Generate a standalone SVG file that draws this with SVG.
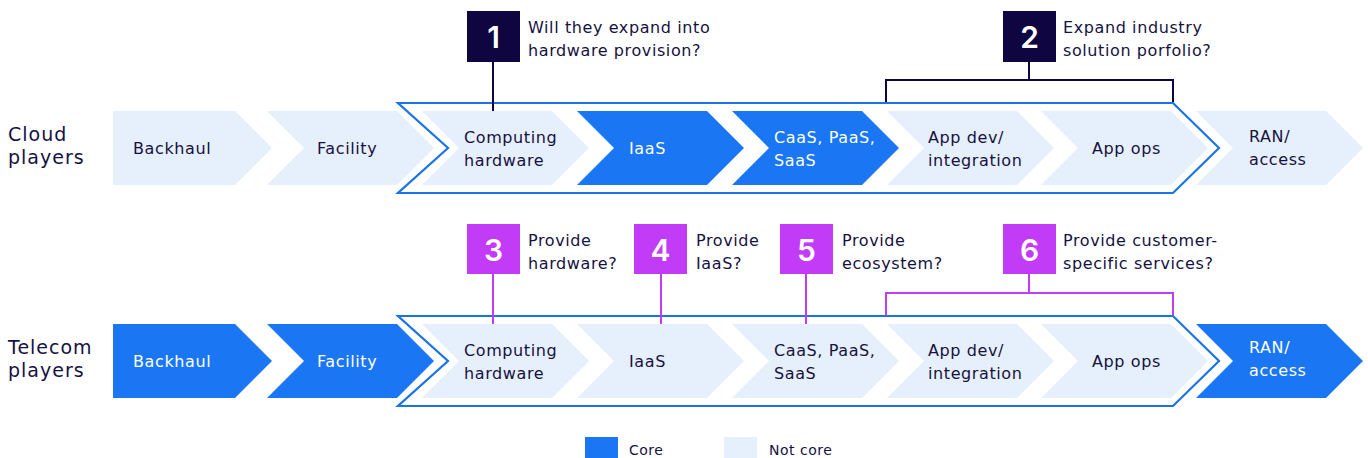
<svg xmlns="http://www.w3.org/2000/svg" width="1368" height="458" viewBox="0 0 1368 458">
<style>
.core{fill:#1a76f2}
.nc{fill:#e6effc}
.outline{fill:none;stroke:#1a73e8;stroke-width:2.2}
.t{font-family:"DejaVu Sans",sans-serif;font-size:16px;letter-spacing:0.6px;fill:#16123f}
.tw{font-family:"DejaVu Sans",sans-serif;font-size:16px;letter-spacing:0.6px;fill:#ffffff}
.lbl{font-family:"DejaVu Sans",sans-serif;font-size:19px;letter-spacing:1px;fill:#16123f}
.leg{font-family:"DejaVu Sans",sans-serif;font-size:14px;letter-spacing:0.5px;fill:#16123f}
.num{font-family:Inter,"Liberation Sans",sans-serif;font-size:30px;font-weight:600;fill:#ffffff;text-anchor:middle}
.navy{fill:#0f0540}
.purple{fill:#c23cf8}
.ln{fill:none;stroke:#0f0540;stroke-width:2}
.lp{fill:none;stroke:#c23cf8;stroke-width:2}
</style>

<g id="row-labels">
<text class="lbl" x="8" y="141">Cloud</text>
<text class="lbl" x="8" y="164">players</text>
<text class="lbl" x="8" y="354">Telecom</text>
<text class="lbl" x="8" y="377">players</text>
</g>

<!-- Cloud row -->
<g id="cloud-outline"><polygon class="outline" points="398,103 1173,103 1219,148 1173,193 398,193 448,148"/></g>
<g id="c-backhaul"><polygon class="nc" points="113,111 235,111 272,148 235,185 113,185"/><text class="t" x="133" y="154">Backhaul</text></g>
<g id="c-facility"><polygon class="nc" points="267,111 397,111 434,148 397,185 267,185 304,148"/><text class="t" x="317" y="154">Facility</text></g>
<g id="c-computing"><polygon class="nc" points="422,111 552,111 589,148 552,185 422,185 459,148"/><text class="t" x="464" y="143">Computing</text><text class="t" x="464" y="166">hardware</text></g>
<g id="c-iaas"><polygon class="core" points="577,111 707,111 744,148 707,185 577,185 614,148"/><text class="tw" x="629" y="154">IaaS</text></g>
<g id="c-caas"><polygon class="core" points="732,111 862,111 899,148 862,185 732,185 769,148"/><text class="tw" x="774" y="143">CaaS, PaaS,</text><text class="tw" x="774" y="166">SaaS</text></g>
<g id="c-appdev"><polygon class="nc" points="887,111 1017,111 1054,148 1017,185 887,185 924,148"/><text class="t" x="928" y="143">App dev/</text><text class="t" x="928" y="166">integration</text></g>
<g id="c-appops"><polygon class="nc" points="1041,111 1171,111 1208,148 1171,185 1041,185 1078,148"/><text class="t" x="1092" y="154">App ops</text></g>
<g id="c-ran"><polygon class="nc" points="1196,111 1326,111 1363,148 1326,185 1196,185 1233,148"/><text class="t" x="1249" y="142">RAN/</text><text class="t" x="1249" y="165">access</text></g>

<!-- Telecom row -->
<g id="telecom-outline"><polygon class="outline" points="398,316 1173,316 1219,361 1173,406 398,406 448,361"/></g>
<g id="t-backhaul"><polygon class="core" points="113,324 235,324 272,361 235,398 113,398"/><text class="tw" x="133" y="367">Backhaul</text></g>
<g id="t-facility"><polygon class="core" points="267,324 397,324 434,361 397,398 267,398 304,361"/><text class="tw" x="317" y="367">Facility</text></g>
<g id="t-computing"><polygon class="nc" points="422,324 552,324 589,361 552,398 422,398 459,361"/><text class="t" x="464" y="356">Computing</text><text class="t" x="464" y="379">hardware</text></g>
<g id="t-iaas"><polygon class="nc" points="577,324 707,324 744,361 707,398 577,398 614,361"/><text class="t" x="629" y="367">IaaS</text></g>
<g id="t-caas"><polygon class="nc" points="732,324 862,324 899,361 862,398 732,398 769,361"/><text class="t" x="774" y="356">CaaS, PaaS,</text><text class="t" x="774" y="379">SaaS</text></g>
<g id="t-appdev"><polygon class="nc" points="887,324 1017,324 1054,361 1017,398 887,398 924,361"/><text class="t" x="928" y="356">App dev/</text><text class="t" x="928" y="379">integration</text></g>
<g id="t-appops"><polygon class="nc" points="1041,324 1171,324 1208,361 1171,398 1041,398 1078,361"/><text class="t" x="1092" y="367">App ops</text></g>
<g id="t-ran"><polygon class="core" points="1196,324 1326,324 1363,361 1326,398 1196,398 1233,361"/><text class="tw" x="1249" y="353">RAN/</text><text class="tw" x="1249" y="376">access</text></g>

<g id="connectors">
<line class="ln" x1="493" y1="62" x2="493" y2="111"/>
<path class="ln" d="M1029,62 V80 M886,102 V80 H1173 V102"/>
<line class="lp" x1="493" y1="274" x2="493" y2="324"/>
<line class="lp" x1="661" y1="274" x2="661" y2="324"/>
<line class="lp" x1="806" y1="274" x2="806" y2="324"/>
<path class="lp" d="M1029,274 V293 M886,315 V293 H1173 V315"/>
</g>

<g id="q1"><rect class="navy" x="467" y="11" width="53" height="51"/><text class="num" x="493.5" y="48">1</text><text class="t" x="528" y="33">Will they expand into</text><text class="t" x="528" y="56">hardware provision?</text></g>
<g id="q2"><rect class="navy" x="1003" y="11" width="53" height="51"/><text class="num" x="1029.5" y="48">2</text><text class="t" x="1063" y="33">Expand industry</text><text class="t" x="1063" y="56">solution porfolio?</text></g>
<g id="q3"><rect class="purple" x="467" y="224" width="53" height="50"/><text class="num" x="493.5" y="261">3</text><text class="t" x="528" y="246">Provide</text><text class="t" x="528" y="269">hardware?</text></g>
<g id="q4"><rect class="purple" x="634" y="224" width="53" height="50"/><text class="num" x="660.5" y="261">4</text><text class="t" x="696" y="246">Provide</text><text class="t" x="696" y="269">IaaS?</text></g>
<g id="q5"><rect class="purple" x="780" y="224" width="53" height="50"/><text class="num" x="806.5" y="261">5</text><text class="t" x="842" y="246">Provide</text><text class="t" x="842" y="269">ecosystem?</text></g>
<g id="q6"><rect class="purple" x="1003" y="224" width="53" height="50"/><text class="num" x="1029.5" y="261">6</text><text class="t" x="1063" y="246">Provide customer-</text><text class="t" x="1063" y="269">specific services?</text></g>

<g id="legend">
<rect class="core" x="585" y="437" width="33" height="21"/><text class="leg" x="629" y="455">Core</text>
<rect class="nc" x="724" y="437" width="33" height="21"/><text class="leg" x="769" y="455">Not core</text>
</g>
</svg>
